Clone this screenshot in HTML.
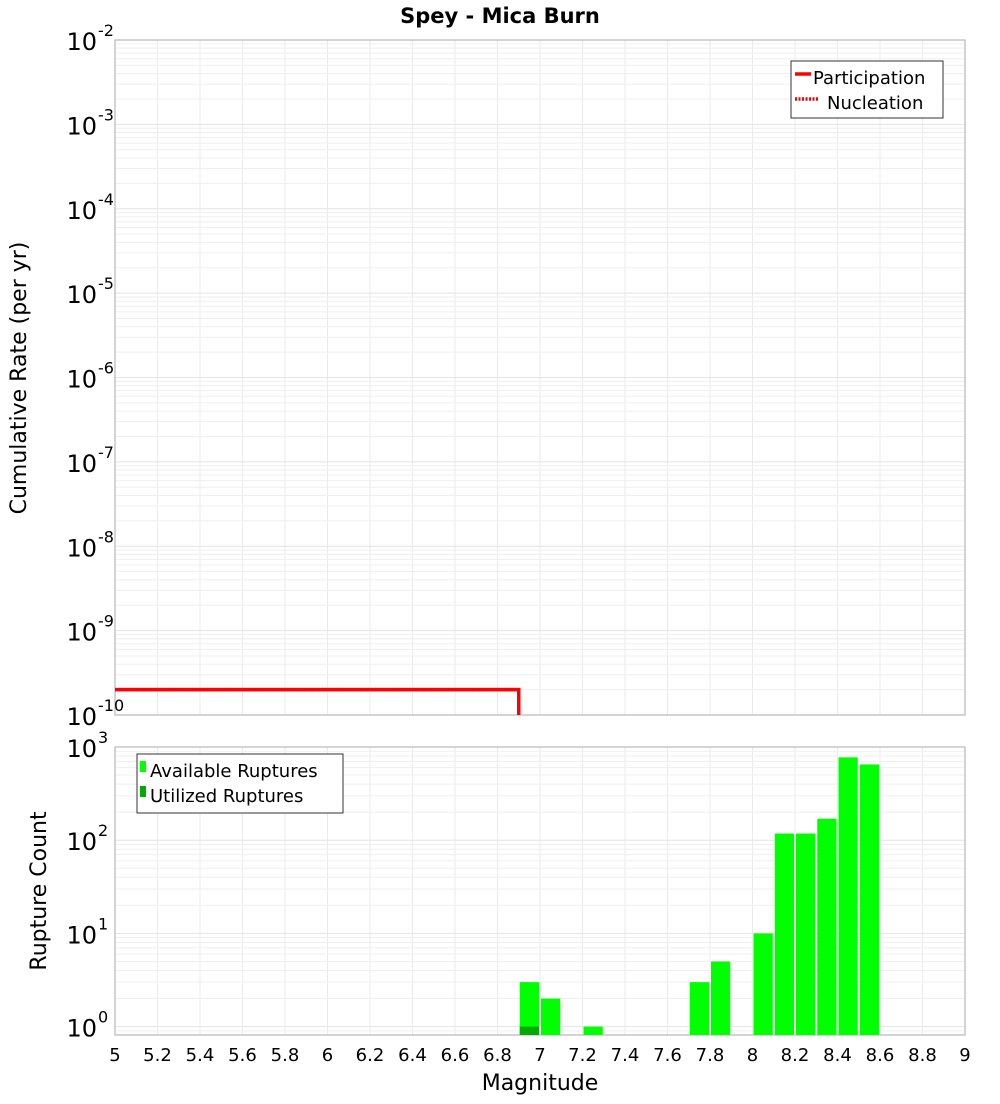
<!DOCTYPE html>
<html><head><meta charset="utf-8"><style>
body{margin:0;background:#fff;font-family:"DejaVu Sans","Liberation Sans",sans-serif;}
</style></head><body>
<svg id="chart" width="1000" height="1100" xmlns="http://www.w3.org/2000/svg" font-family="DejaVu Sans, Liberation Sans, sans-serif">
<rect width="1000" height="1100" fill="#fff"/>
<text x="500" y="23" text-anchor="middle" font-size="21" font-weight="bold">Spey - Mica Burn</text>
<g id="topg"></g><g id="botg"></g>
<text transform="translate(26,378) rotate(-90)" text-anchor="middle" font-size="22">Cumulative Rate (per yr)</text>
<text transform="translate(46,891) rotate(-90)" text-anchor="middle" font-size="22">Rupture Count</text>
<text x="540" y="1090" text-anchor="middle" font-size="22">Magnitude</text>
</svg>
<script>
const xTicks=[5,5.2,5.4,5.6,5.8,6,6.2,6.4,6.6,6.8,7,7.2,7.4,7.6,7.8,8,8.2,8.4,8.6,8.8,9];
const partMag=[5,6.9,6.9];
const partRate=[2e-10,2e-10,1e-10];
const nuclMag=[5,6.9,6.9];
const nuclRate=[2e-10,2e-10,1e-10];
const binCenters=[6.95,7.05,7.25,7.75,7.85,8.05,8.15,8.25,8.35,8.45,8.55];
const availCounts=[3,2,1,3,5,10,118,118,170,775,650];
const utilCenters=[6.95];
const utilCounts=[1];
const NS="http://www.w3.org/2000/svg";
const X0=115,X1=965;
const xs=v=>X0+(v-5)/4*(X1-X0);
const T0=40,T1=715; const ysT=v=>T0+(-2-Math.log10(v))/8*(T1-T0);
const B0=747,B1=1035,BL=-0.09,BH=3.0; const ysB=v=>B0+(BH-Math.log10(v))/(BH-BL)*(B1-B0);
function mk(tag,attrs,parent){const e=document.createElementNS(NS,tag);for(const k in attrs)e.setAttribute(k,attrs[k]);parent.appendChild(e);return e;}
const gTop=document.getElementById('topg'),gBot=document.getElementById('botg');
function grid(g,y0,y1,ys,lo,hi){
  xTicks.forEach(t=>{const l=mk('line',{x1:xs(t),x2:xs(t),y1:y0,y2:y1,stroke:'#ebebeb'},g);});
  for(let d=lo;d<hi;d++)for(let m=1;m<10;m++){const v=m*Math.pow(10,d);const y=ys(v);if(y<y0-0.5||y>y1+0.5)continue;const l=mk('line',{x1:X0,x2:X1,y1:y,y2:y,stroke:m==1?'#e4e4e4':'#efefef'},g);}
  const r=mk('rect',{x:X0,y:y0,width:X1-X0,height:y1-y0,fill:'none',stroke:'#aaa'},g);
}
function ylab(g,e,y,xr){const t=mk('text',{x:xr,y:y+10,'text-anchor':'end','font-size':24},g);t.textContent='10';const s=mk('text',{x:xr+1,y:y-4,'font-size':16},g);s.textContent=e;}
grid(gTop,T0,T1,ysT,-10,-2);
for(let e=-10;e<=-2;e++)ylab(gTop,String(e),ysT(Math.pow(10,e)),97);
grid(gBot,B0,B1,ysB,-1,3);
for(let e=0;e<=3;e++)ylab(gBot,String(e),ysB(Math.pow(10,e)),97);
xTicks.forEach(t=>{const l=mk('text',{x:xs(t),y:1061,'text-anchor':'middle','font-size':18},gBot);l.textContent=String(t);});
function pl(mags,rates,dash,name){const pts=mags.map((m,i)=>xs(m)+','+Math.min(ysT(rates[i]),T1)).join(' ');const l=mk('polyline',{points:pts,fill:'none',stroke:'#f00','stroke-width':3.5},gTop);if(dash)l.setAttribute('stroke-dasharray','2,1.5');}
pl(partMag,partRate,false,'participation-line');
pl(nuclMag,nuclRate,true,'nucleation-line');
const bw=xs(5.1)-xs(5);
binCenters.forEach((c,i)=>{const y=ysB(availCounts[i]);const r=mk('rect',{x:xs(c)-bw/2+1,y:y,width:bw-2,height:B1-y,fill:'#00ff00'},gBot);});
utilCenters.forEach((c,i)=>{const y=ysB(utilCounts[i]);const r=mk('rect',{x:xs(c)-bw/2+1,y:y,width:bw-2,height:B1-y,fill:'#00aa00'},gBot);});
function legend(g,x,y,w,h,items){const lg=mk('g',{},g);mk('rect',{x:x,y:y,width:w,height:h,fill:'#fff',stroke:'#333'},lg);items.forEach((it,i)=>{const cy=y+16+i*25;it.draw(lg,cy);const t=mk('text',{x:x+it.tx,y:cy+7,'font-size':18},lg);t.textContent=it.label;});}
legend(gTop,791,61,152,57,[
 {label:'Participation',tx:22,draw:(g,cy)=>mk('line',{x1:795,x2:811,y1:cy-3,y2:cy-3,stroke:'#f00','stroke-width':3.5},g)},
 {label:'Nucleation',tx:36,draw:(g,cy)=>mk('line',{x1:795,x2:819,y1:cy-3,y2:cy-3,stroke:'#f00','stroke-width':3.5,'stroke-dasharray':'2,1.5'},g)}]);
legend(gBot,137,754,206,59,[
 {label:'Available Ruptures',tx:13,draw:(g,cy)=>mk('rect',{x:140,y:cy-9,width:6,height:11,fill:'#00ff00'},g)},
 {label:'Utilized Ruptures',tx:13,draw:(g,cy)=>mk('rect',{x:140,y:cy-9,width:6,height:11,fill:'#00aa00'},g)}]);
</script>
</body></html>
